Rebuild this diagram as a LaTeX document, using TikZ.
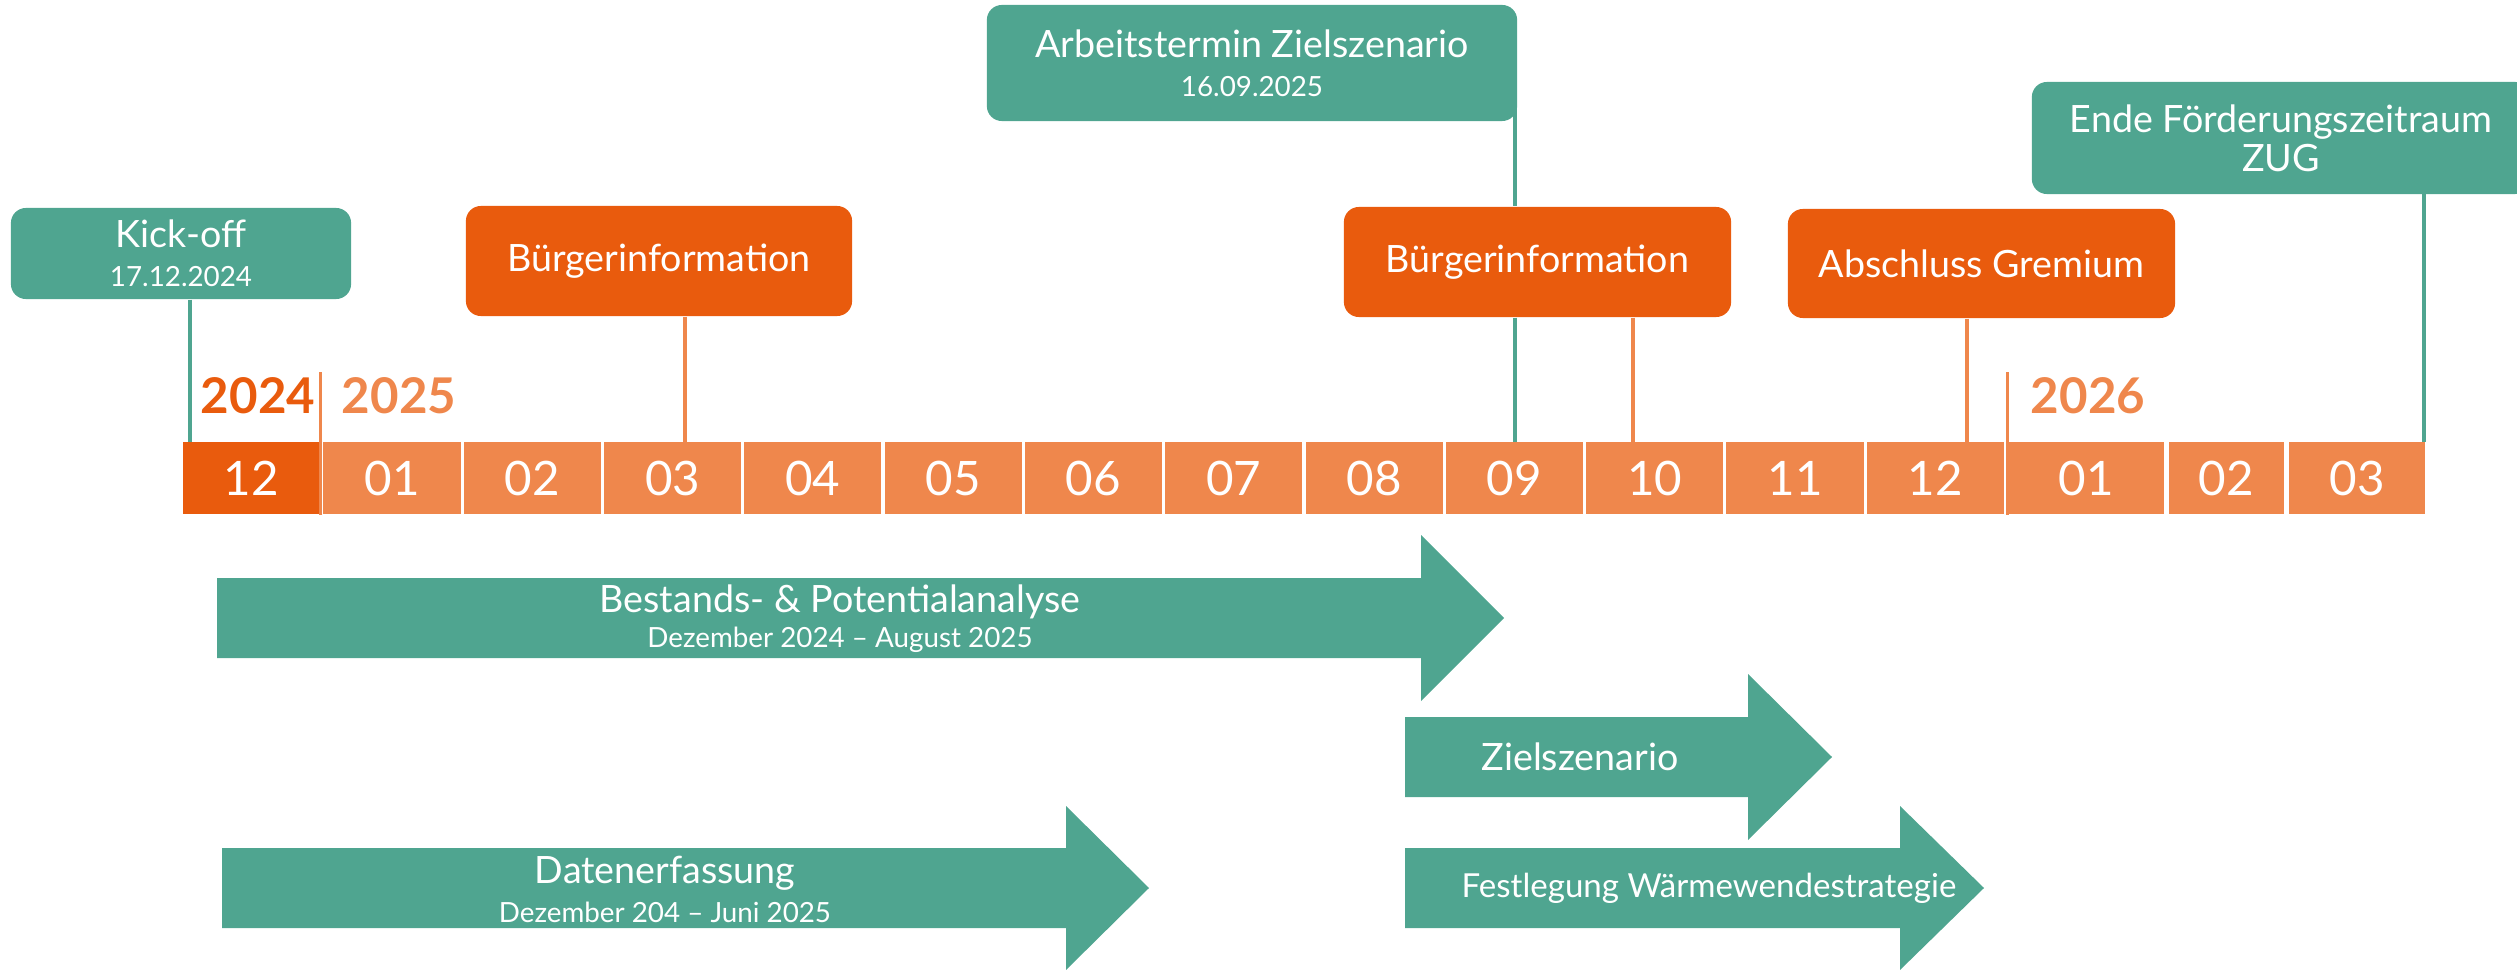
\documentclass[tikz,border=0pt]{standalone}
\usepackage{fontspec}
\setmainfont{Lato}

\definecolor{zteal}{HTML}{4FA590}
\definecolor{zorange}{HTML}{E95B0D}
\definecolor{zlight}{HTML}{EF874C}

\newcommand{\smalldate}{\fontsize{7.9}{9}\selectfont}

\begin{document}
\begin{tikzpicture}[
    x=0.01cm, y=-0.01cm,
    every node/.style={anchor=center, inner sep=0pt, text=white},
    month/.style={fill=zlight, minimum width=1.37cm, minimum height=0.72cm, font=\fontsize{13.5}{15}\selectfont},
    year/.style={text=zlight, font=\fontsize{14}{16}\selectfont\bfseries},
    milestone/.style={fill=zteal, rounded corners=0.15cm, align=center, font=\fontsize{10.7}{11}\selectfont},
    event/.style={fill=zorange, rounded corners=0.15cm, align=center, font=\fontsize{10.7}{11}\selectfont},
    phase/.style={fill=zteal},
    title/.style={font=\fontsize{10.7}{12}\selectfont},
    period/.style={font=\smalldate},
    pin/.style={line width=0.9pt}
    ]

\useasboundingbox (0,0) rectangle (2517,970);
\clip (0,0) rectangle (2517,970);

% Months
\node[month, fill=zorange] (m24-12) at (251.5,478) {12};
\foreach \m [count=\i from 0] in {01,02,03,04,05,06,07,08,09,10,11,12}
    \node[month] (m25-\m) at (392+\i*140.3,478) {\m};
\node[month, minimum width=1.56cm] (m26-01) at (2086,478) {01};
\node[month, minimum width=1.15cm] (m26-02) at (2226.5,478) {02};
\node[month, minimum width=1.36cm] (m26-03) at (2357,478) {03};

% Years
\node[year, text=zorange] (y2024) at (258,396) {2024};
\node[year] (y2025) at (399,396) {2025};
\node[year] (y2026) at (2088,396) {2026};
\draw[pin, zlight] (m24-12.south east) -- ++(0,-143);
\draw[pin, zlight] (m26-01.south west) -- ++(0,-143);

% Milestones and events
\node[milestone, minimum width=3.40cm, minimum height=0.91cm] (kickoff) at (181,253.5) {Kick-off\\{\smalldate 17.12.2024}};
\node[event, minimum width=3.86cm, minimum height=1.10cm] (buerger1) at (659,261) {Bürgerinformation};
\node[milestone, minimum width=5.30cm, minimum height=1.16cm] (arbeit) at (1252,63) {Arbeitstermin Zielszenario\\{\smalldate 16.09.2025}};
\node[event, minimum width=3.87cm, minimum height=1.10cm] (buerger2) at (1537.5,262) {Bürgerinformation};
\node[event, minimum width=3.87cm, minimum height=1.09cm] (abschluss) at (1981.5,263.5) {Abschluss Gremium};
\node[milestone, minimum width=4.98cm, minimum height=1.12cm] (ende) at (2281,138) {Ende Förderungszeitraum\\ZUG};

% Pins to the months
\coordinate (kickpin) at (190,442);
\coordinate (pin1) at (685,442);
\coordinate (pin2) at (1515,442);
\coordinate (pin3) at (1633,442);
\coordinate (pin4) at (1967,442);
\coordinate (pin5) at (2424,442);
\draw[pin, zteal] (kickoff.south -| kickpin) -- (kickpin);
\draw[pin, zlight] (buerger1.south -| pin1) -- (pin1);
\draw[pin, zteal] (arbeit.center -| pin2) -- (buerger2.north -| pin2);
\draw[pin, zteal] (buerger2.south -| pin2) -- (pin2);
\draw[pin, zlight] (buerger2.south -| pin3) -- (pin3);
\draw[pin, zlight] (abschluss.south -| pin4) -- (pin4);
\draw[pin, zteal] (ende.center -| pin5) -- (pin5);

% Phases
\fill[phase] (217,578) -- (1421,578) -- (1421,535) -- (1504,618) -- (1421,701) -- (1421,658) -- (217,658) -- cycle;
\node[title] (bestand) at (840,602) {Bestands- \& Potentialanalyse};
\node[period] (bestand date) at (840,640) {Dezember 2024 – August 2025};

\fill[phase] (222,848) -- (1066,848) -- (1066,806) -- (1149,888) -- (1066,970) -- (1066,928) -- (222,928) -- cycle;
\node[title] (daten) at (665,873) {Datenerfassung};
\node[period] (daten date) at (665,912) {Dezember 204 – Juni 2025};

\fill[phase] (1405,717) -- (1748,717) -- (1748,674) -- (1832,757) -- (1748,840) -- (1748,797) -- (1405,797) -- cycle;
\node[title] (ziel) at (1580,757) {Zielszenario};

\fill[phase] (1405,848) -- (1900,848) -- (1900,806) -- (1984,888) -- (1900,970) -- (1900,928) -- (1405,928) -- cycle;
\node[title, font=\fontsize{9.4}{11}\selectfont] (strategie) at (1709,888) {Festlegung Wärmewendestrategie};

\end{tikzpicture}
\end{document}
